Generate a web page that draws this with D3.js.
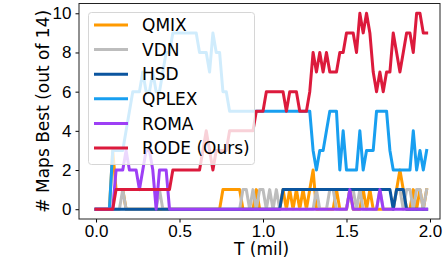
<html>
    <head>
        <style>
            body { margin: 0; background: #fff; }
            svg { display: block; font-family: "DejaVu Sans", sans-serif; }
            .axis text { font-size: 17px; fill: #000; }
            .axis line, .axis path { stroke: #000; }
        </style>
    </head>
    <body>
        <svg></svg>

        <script src="https://d3js.org/d3.v7.min.js"></script>
        <script>
            // time axis, in millions of steps
            const tMil = [
                0.00, 0.02, 0.04, 0.06, 0.08, 0.10, 0.12, 0.14, 0.16, 0.18,
                0.20, 0.22, 0.24, 0.26, 0.28, 0.30, 0.32, 0.34, 0.36, 0.38,
                0.40, 0.42, 0.44, 0.46, 0.48, 0.50, 0.52, 0.54, 0.56, 0.58,
                0.60, 0.62, 0.64, 0.66, 0.68, 0.70, 0.72, 0.74, 0.76, 0.78,
                0.80, 0.82, 0.84, 0.86, 0.88, 0.90, 0.92, 0.94, 0.96, 0.98,
                1.00, 1.02, 1.04, 1.06, 1.08, 1.10, 1.12, 1.14, 1.16, 1.18,
                1.20, 1.22, 1.24, 1.26, 1.28, 1.30, 1.32, 1.34, 1.36, 1.38,
                1.40, 1.42, 1.44, 1.46, 1.48, 1.50, 1.52, 1.54, 1.56, 1.58,
                1.60, 1.62, 1.64, 1.66, 1.68, 1.70, 1.72, 1.74, 1.76, 1.78,
                1.80, 1.82, 1.84, 1.86, 1.88, 1.90, 1.92, 1.94, 1.96, 1.98
            ];

            // number of maps where each method is best
            const qmix = [
                0,0,0,0,0,3,1,1,1,0,  0,0,0,0,0,0,0,0,0,0,
                0,0,0,0,0,0,0,0,0,0,  0,0,0,0,0,0,0,0,1,1,
                1,1,1,1,0,0,0,0,1,0,  0,0,0,0,0,0,1,0,1,0,
                1,0,1,0,1,2,0,0,0,0,  0,0,1,0,0,0,1,0,0,0,
                1,0,1,0,0,0,0,0,0,0,  1,2,1,0,0,1,0,1,0,1
            ];
            const vdn = [
                0,0,0,0,0,0,0,0,1,0,  0,0,0,0,0,0,0,0,0,1,
                0,0,0,0,0,0,0,0,0,0,  0,0,0,0,0,0,0,0,0,0,
                0,0,0,0,1,1,0,1,0,1,  1,0,1,0,1,0,0,0,0,0,
                0,0,0,0,0,0,1,0,0,0,  1,1,0,0,0,0,1,1,0,1,
                0,0,0,0,0,1,0,0,0,0,  1,1,0,1,1,0,1,1,0,1
            ];
            const hsd = [
                0,0,0,0,0,0,0,0,0,0,  0,0,0,0,0,0,0,0,0,0,
                0,0,0,0,0,0,0,0,0,0,  0,0,0,0,0,0,0,0,0,0,
                0,0,0,0,0,0,0,0,0,0,  0,0,0,0,0,0,1,1,1,1,
                1,1,1,1,1,1,1,1,1,1,  1,1,1,1,1,1,1,1,1,1,
                1,1,1,1,1,1,1,1,1,0,  1,1,1,0,0,0,0,0,0,0
            ];
            const qplex = [
                0,0,0,0,0,3,3,3,3,4,  5,6,6,6,7,6,6,7,6,6,
                7,8,8,9,9,9,9,9,9,9,  9,8,8,8,7,9,8,8,6,6,
                5,5,5,5,5,5,5,5,5,5,  5,5,5,5,5,5,5,5,5,5,
                5,5,5,5,5,3,2,3,3,4,  5,5,5,2,4,2,2,2,2,4,
                2,3,3,3,5,5,5,5,3,2,  2,2,2,2,2,4,2,3,2,3
            ];
            const roma = [
                0,0,0,0,0,0,2,2,2,3,  2,2,2,1,2,3,3,2,0,2,
                2,2,0,0,0,0,0,0,0,0,  0,0,0,0,0,0,0,0,0,0,
                0,0,0,0,0,0,0,0,0,0,  0,0,0,0,0,0,0,0,0,0,
                0,0,0,0,0,0,0,0,0,0,  0,0,0,0,0,0,1,0,0,0,
                0,0,0,0,0,1,0,0,0,0,  0,0,0,0,0,0,0,0,0,0
            ];
            const rode = [
                0,0,0,0,0,0,1,1,1,1,  1,1,1,1,1,1,1,1,1,1,
                1,1,1,2,2,2,2,2,2,2,  2,2,3,4,3,2,3,3,3,3,
                4,4,4,4,4,4,4,4,5,5,  5,6,6,6,6,6,6,5,6,6,
                6,5,5,5,6,8,7,8,7,8,  7,7,7,8,8,9,9,9,8,10,
                9,10,9,7,6,7,6,7,7,9,  8,7,8,9,9,8,10,10,9,9
            ];

            const seriesNames = ["QMIX", "VDN", "HSD", "QPLEX", "ROMA", "RODE (Ours)"];
            const seriesValues = [qmix, vdn, hsd, qplex, roma, rode];
            const seriesColors = ["#ff9a00", "#bdbdbd", "#0b559f", "#189ff0", "#9d3ff5", "#dc1a3c"];

            const xTicks = [0, 0.5, 1.0, 1.5, 2.0];
            const yTicks = [0, 2, 4, 6, 8, 10];

            const width = 444, height = 260;
            const plotLeft = 79, plotRight = 440, plotTop = 3.5, plotBottom = 219;

            const svg = d3.select("svg")
                .attr("width", width)
                .attr("height", height);

            const x = d3.scaleLinear().domain([-0.102, 2.06]).range([plotLeft, plotRight]);
            const y = d3.scaleLinear().domain([-0.5, 10.5]).range([plotBottom, plotTop]);

            // lines, drawn in legend order so later ones sit on top
            const line = d3.line()
                .x(function(d, i) { return x(tMil[i]); })
                .y(function(d) { return y(d); });

            svg.append("g")
                .selectAll("path")
                .data(seriesValues)
                .join("path")
                .attr("d", line)
                .attr("fill", "none")
                .attr("stroke", function(d, i) { return seriesColors[i]; })
                .attr("stroke-width", 3)
                .attr("stroke-linejoin", "round")
                .attr("stroke-linecap", "square");

            // axes
            const xAxis = svg.append("g")
                .attr("class", "axis")
                .attr("transform", "translate(0," + plotBottom + ")")
                .call(d3.axisBottom(x).tickValues(xTicks).tickFormat(d3.format(".1f")).tickSize(3.5).tickPadding(2));
            xAxis.select(".domain").remove();

            const yAxis = svg.append("g")
                .attr("class", "axis")
                .attr("transform", "translate(" + plotLeft + ",0)")
                .call(d3.axisLeft(y).tickValues(yTicks).tickSize(3.5).tickPadding(4));
            yAxis.select(".domain").remove();

            // frame
            svg.append("rect")
                .attr("x", plotLeft)
                .attr("y", plotTop)
                .attr("width", plotRight - plotLeft)
                .attr("height", plotBottom - plotTop)
                .attr("fill", "none")
                .attr("stroke", "#222")
                .attr("stroke-width", 1);

            // axis labels
            svg.append("text")
                .attr("x", (plotLeft + plotRight) / 2 + 2)
                .attr("y", 255)
                .attr("text-anchor", "middle")
                .attr("font-size", 17)
                .text("T (mil)");

            svg.append("text")
                .attr("transform", "translate(49," + (plotTop + plotBottom) / 2 + ") rotate(-90)")
                .attr("text-anchor", "middle")
                .attr("font-size", 17)
                .text("# Maps Best (out of 14)");

            // legend
            const legend = svg.append("g");
            legend.append("rect")
                .attr("x", 88.5)
                .attr("y", 12.5)
                .attr("width", 166)
                .attr("height", 152)
                .attr("rx", 3)
                .attr("fill", "#fff")
                .attr("fill-opacity", 0.8)
                .attr("stroke", "#d6d6d6")
                .attr("stroke-width", 1);

            const item = legend.selectAll(".item")
                .data(seriesNames)
                .join("g")
                .attr("class", "item")
                .attr("transform", function(d, i) { return "translate(0," + (25 + i * 24.6) + ")"; });

            item.append("line")
                .attr("x1", 94)
                .attr("x2", 128)
                .attr("stroke", function(d, i) { return seriesColors[i]; })
                .attr("stroke-width", 3);

            item.append("text")
                .attr("x", 142)
                .attr("dy", "0.36em")
                .attr("font-size", 17)
                .text(function(d) { return d; });
        </script>
    </body>
</html>
